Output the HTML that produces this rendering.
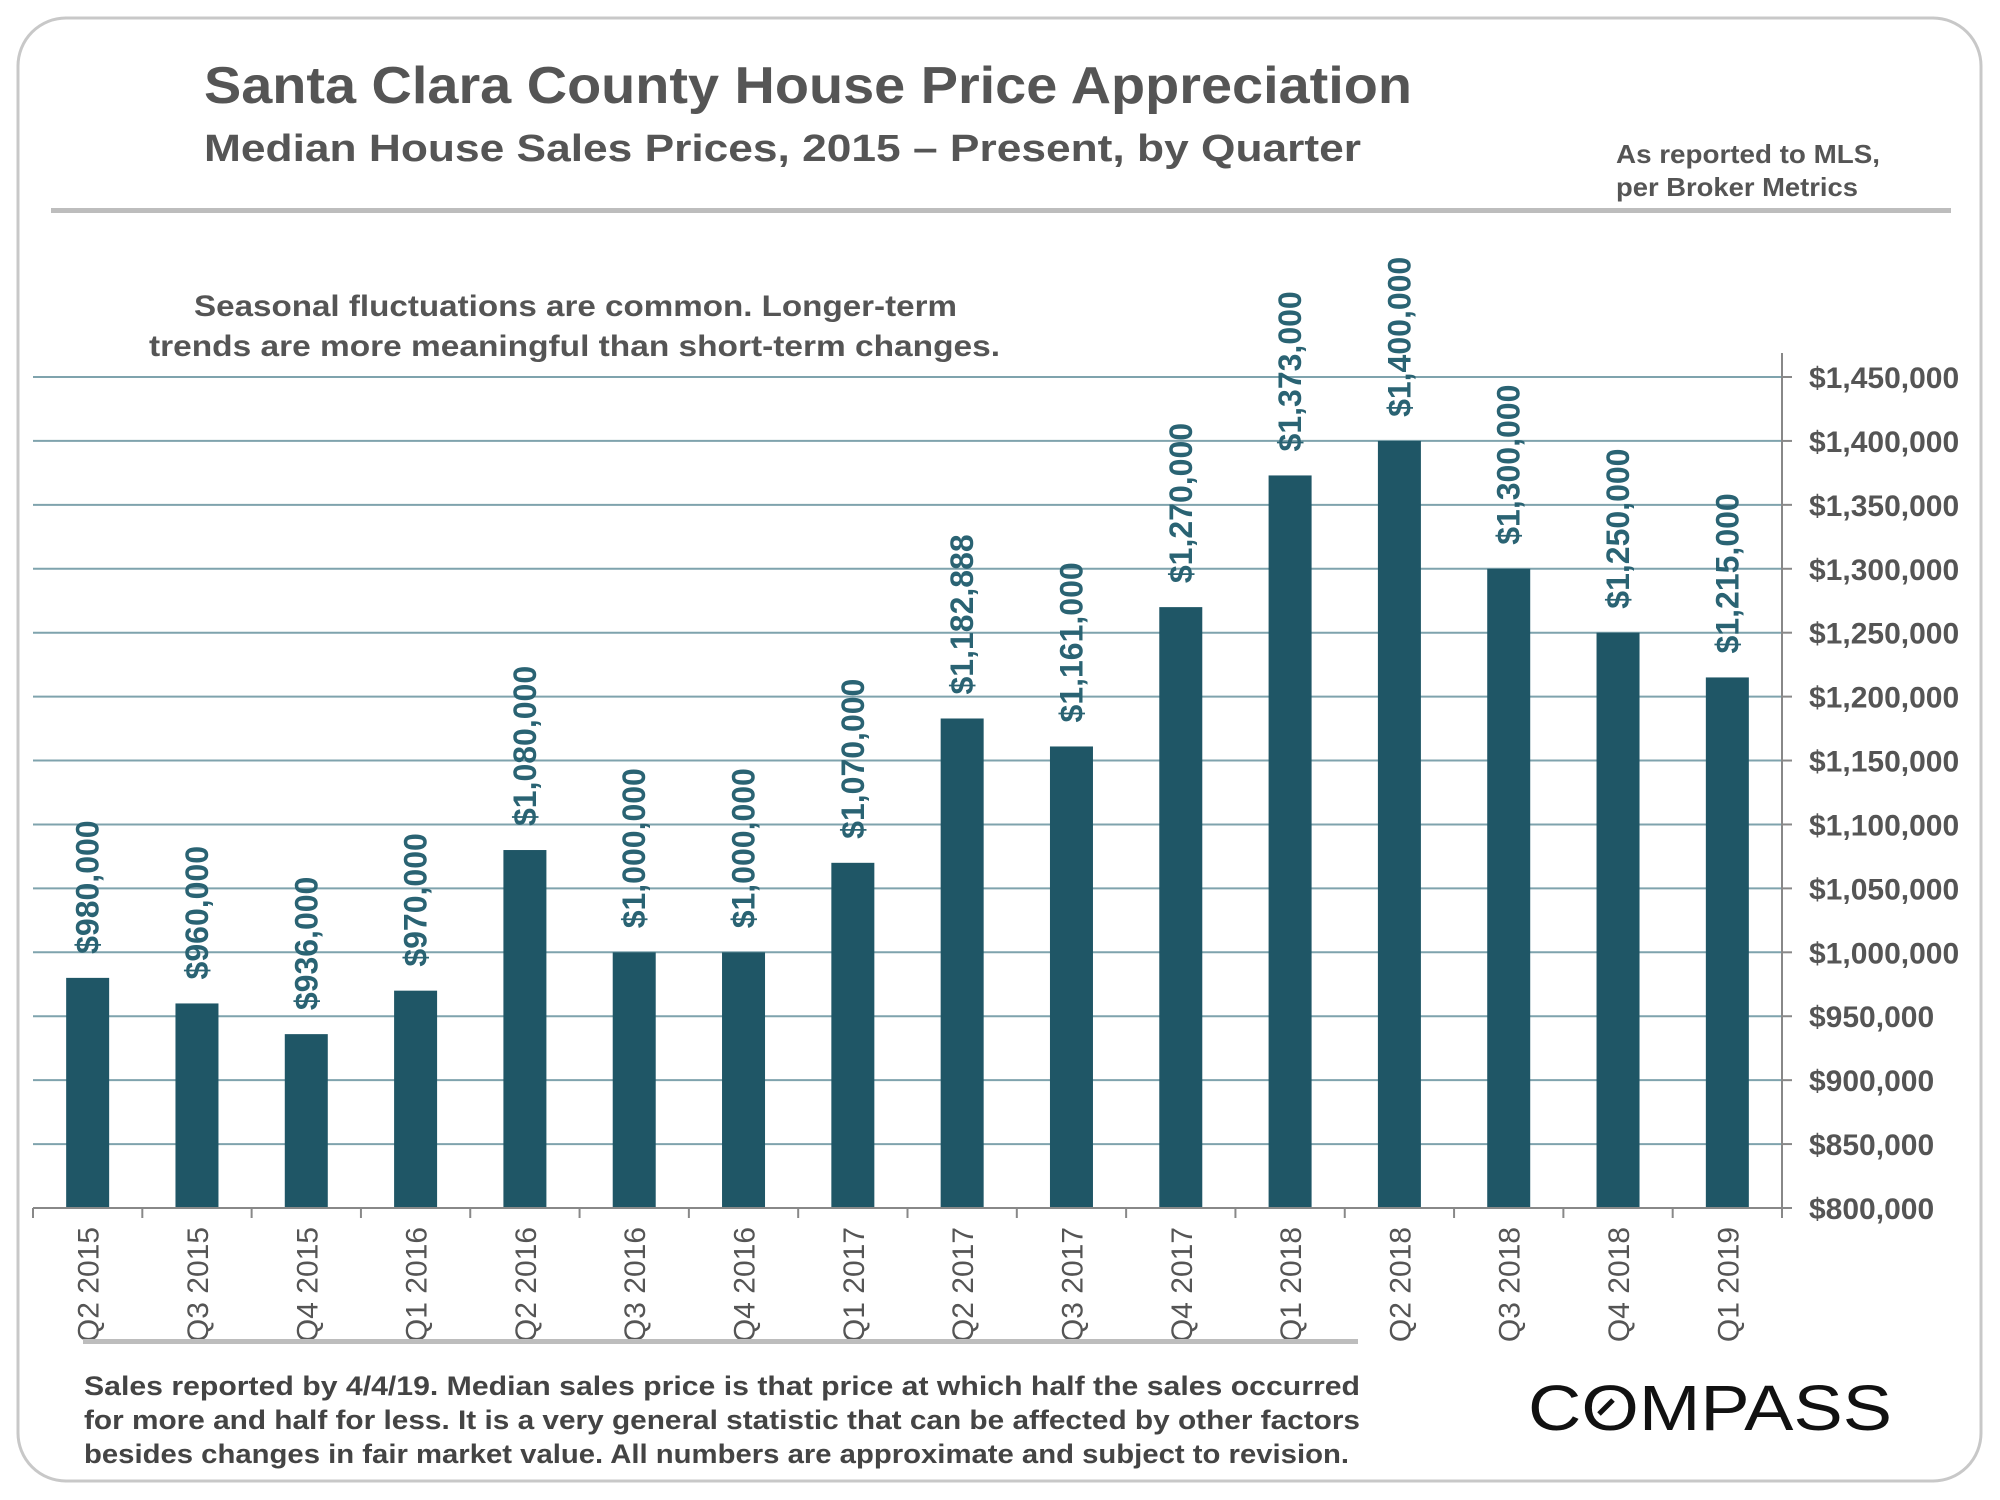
<!DOCTYPE html>
<html><head><meta charset="utf-8"><style>
html,body{margin:0;padding:0;background:#fff;}
svg{display:block;font-family:"Liberation Sans",Arial,sans-serif;}
</style></head><body>
<svg id="chart" width="2000" height="1500" viewBox="0 0 2000 1500">
<rect x="18" y="18" width="1963" height="1463" rx="48" fill="#fff" stroke="#c8c8c8" stroke-width="3"/>
<text x="204" y="103" font-size="52" font-weight="bold" fill="#555" textLength="1208" lengthAdjust="spacingAndGlyphs">Santa Clara County House Price Appreciation</text>
<text x="204" y="161" font-size="38" font-weight="bold" fill="#555" textLength="1157" lengthAdjust="spacingAndGlyphs">Median House Sales Prices, 2015 – Present, by Quarter</text>
<text x="1616" y="163" font-size="26" font-weight="bold" fill="#555" textLength="264" lengthAdjust="spacingAndGlyphs">As reported to MLS,</text>
<text x="1616" y="196" font-size="26" font-weight="bold" fill="#555" textLength="242" lengthAdjust="spacingAndGlyphs">per Broker Metrics</text>
<rect x="51" y="208" width="1900" height="5" fill="#bdbdbd"/>
<text x="194" y="316" font-size="30" font-weight="bold" fill="#555" textLength="763" lengthAdjust="spacingAndGlyphs">Seasonal fluctuations are common. Longer-term</text>
<text x="149" y="356" font-size="30" font-weight="bold" fill="#555" textLength="851" lengthAdjust="spacingAndGlyphs">trends are more meaningful than short-term changes.</text>
<g id="grid"></g>
<g id="bars"></g>
<g id="axes"></g>
<rect x="83" y="1339" width="1275" height="5" fill="#bdbdbd"/>
<g font-size="27" font-weight="bold" fill="#444">
<text x="84" y="1395" textLength="1276" lengthAdjust="spacingAndGlyphs">Sales reported by 4/4/19. Median sales price is that price at which half the sales occurred</text>
<text x="84" y="1429" textLength="1276" lengthAdjust="spacingAndGlyphs">for more and half for less. It is a very general statistic that can be affected by other factors</text>
<text x="84" y="1463" textLength="1265" lengthAdjust="spacingAndGlyphs">besides changes in fair market value. All numbers are approximate and subject to revision.</text>
</g>
<g>
<text x="1528" y="1430" font-size="64" fill="#111" textLength="364" lengthAdjust="spacingAndGlyphs">COMPASS</text>
<line x1="1599" y1="1414" x2="1613" y2="1400" stroke="#111" stroke-width="5"/>
</g>
</svg>
<script>
const categories = ["Q2 2015","Q3 2015","Q4 2015","Q1 2016","Q2 2016","Q3 2016","Q4 2016","Q1 2017","Q2 2017","Q3 2017","Q4 2017","Q1 2018","Q2 2018","Q3 2018","Q4 2018","Q1 2019"];
const values = [980000,960000,936000,970000,1080000,1000000,1000000,1070000,1182888,1161000,1270000,1373000,1400000,1300000,1250000,1215000];
const valueLabels = ["$980,000","$960,000","$936,000","$970,000","$1,080,000","$1,000,000","$1,000,000","$1,070,000","$1,182,888","$1,161,000","$1,270,000","$1,373,000","$1,400,000","$1,300,000","$1,250,000","$1,215,000"];
const yTicks = [800000,850000,900000,950000,1000000,1050000,1100000,1150000,1200000,1250000,1300000,1350000,1400000,1450000];
const yTickLabels = ["$800,000","$850,000","$900,000","$950,000","$1,000,000","$1,050,000","$1,100,000","$1,150,000","$1,200,000","$1,250,000","$1,300,000","$1,350,000","$1,400,000","$1,450,000"];

const NS = "http://www.w3.org/2000/svg";
const X0 = 33, X1 = 1782, Y0 = 1208, Y1 = 377, VMIN = 800000, VMAX = 1450000;
const band = (X1 - X0) / categories.length;
function xCenter(i){ return X0 + band * (i + 0.5); }
function yScale(v){ return Y0 - (v - VMIN) / (VMAX - VMIN) * (Y0 - Y1); }
function mk(tag, attrs, parent){ const e = document.createElementNS(NS, tag); for (const k in attrs) e.setAttribute(k, attrs[k]); parent.appendChild(e); return e; }

const grid = document.getElementById('grid');
const bars = document.getElementById('bars');
const axes = document.getElementById('axes');

yTicks.forEach((t, i) => {
  const y = yScale(t);
  if (i > 0) {
    const gl = mk('line', {x1: X0, x2: X1, y1: y, y2: y, stroke: '#7fa3ad', 'stroke-width': 2}, grid);
    
    
  }
  const tk = mk('line', {x1: X1, x2: X1 + 10, y1: y, y2: y, stroke: '#888', 'stroke-width': 2}, axes);
  
  
  const lb = mk('text', {x: 1809, y: y + 11, 'font-size': 30, 'font-weight': 'bold', fill: '#555'}, axes);
  lb.textContent = yTickLabels[i];
  
  
});

const yAxis = mk('line', {x1: X1, x2: X1, y1: 353, y2: Y0 + 10, stroke: '#888', 'stroke-width': 2}, axes);


const xAxis = mk('line', {x1: X0, x2: X1, y1: Y0, y2: Y0, stroke: '#888', 'stroke-width': 2}, axes);


for (let i = 0; i <= categories.length; i++) {
  const x = X0 + band * i;
  const t = mk('line', {x1: x, x2: x, y1: Y0, y2: Y0 + 10, stroke: '#888', 'stroke-width': 2}, axes);
  
  
}

const BW = 43;
values.forEach((v, i) => {
  const cx = xCenter(i), y = yScale(v);
  const r = mk('rect', {x: cx - BW / 2, y: y, width: BW, height: Y0 - y, fill: '#1f5666'}, bars);
  
  
  const ly = y - 24;
  const vl = mk('text', {x: cx + 11, y: ly, 'font-size': 32, 'font-weight': 'bold', fill: '#2a6373', transform: 'rotate(-90 ' + (cx + 11) + ' ' + ly + ')'}, bars);
  vl.textContent = valueLabels[i];
  
  
  const cl = mk('text', {x: cx + 11, y: 1227, 'font-size': 30, fill: '#555', 'text-anchor': 'end', transform: 'rotate(-90 ' + (cx + 11) + ' 1227)'}, axes);
  cl.textContent = categories[i];
  
  
});
</script>
</body></html>
